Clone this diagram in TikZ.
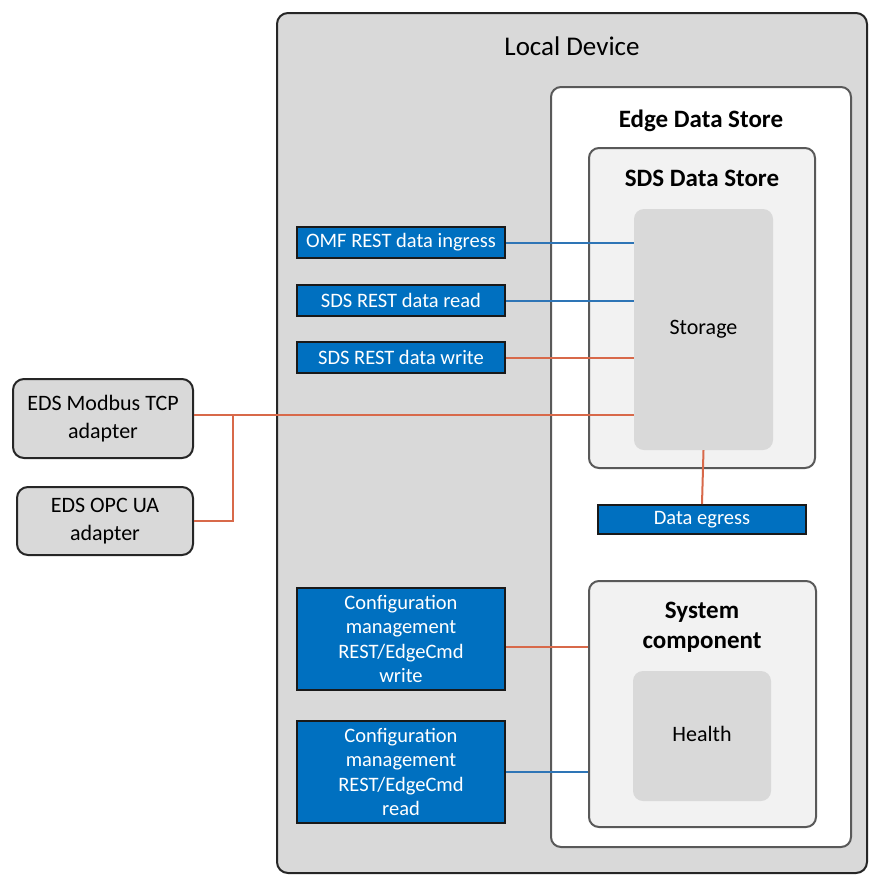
\documentclass[tikz,border=0pt]{standalone}
\usepackage{fontspec}
\setmainfont{Carlito}
\usetikzlibrary{positioning,calc}
\newcommand{\mylw}{2pt}
\newcommand{\txtsize}{\fontsize{22}{27.5}\selectfont}
\newcommand{\bluesize}{\fontsize{20.5}{24.6}\selectfont}
\newcommand{\boldsize}{\fontsize{25}{30}\selectfont\bfseries}
\definecolor{boxblue}{HTML}{0070C0}
\definecolor{lineblue}{HTML}{2E75B6}
\definecolor{lineorange}{HTML}{D8694A}
\definecolor{boxgray}{HTML}{D9D9D9}
\definecolor{boxlight}{HTML}{F2F2F2}
\definecolor{edgegray}{HTML}{595959}
\tikzset{
    devsty/.style={draw=black!85,line width=\mylw,fill=boxgray,rounded corners=11pt,inner sep=0pt},
    edssty/.style={draw=edgegray,line width=\mylw,fill=white,rounded corners=10pt,inner sep=0pt},
    innsty/.style={draw=edgegray,line width=\mylw,fill=boxlight,rounded corners=10pt,inner sep=0pt},
    coresty/.style={fill=boxgray,rounded corners=10pt,inner sep=0pt,font=\txtsize},
    apisty/.style={draw=black!90,line width=\mylw,fill=boxblue,text=white,align=center,inner sep=0pt,minimum width=208pt,font=\bluesize},
    adpsty/.style={draw=black!85,line width=\mylw,fill=boxgray,rounded corners=11pt,align=center,inner sep=0pt,font=\txtsize},
    titlesty/.style={align=center,font=\boldsize},
    blsty/.style={draw=lineblue,line width=\mylw},
    olsty/.style={draw=lineorange,line width=\mylw},
}

\begin{document}
\begin{tikzpicture}[x=1pt,y=-1pt]
  \useasboundingbox (0,0) rectangle (877,887);

  \node[devsty,minimum width=590pt,minimum height=860pt] (dev) at (572,443) {};
  \node[font=\fontsize{27}{32}\selectfont] (devlbl) at (572,46) {Local Device};

  \node[edssty,minimum width=300pt,minimum height=760pt] (eds) at (701,467) {};
  \node[titlesty] (edslbl) at (701,121) {Edge Data Store};

  \node[innsty,minimum width=226pt,minimum height=320pt] (sds) at (702,308) {};
  \node[titlesty] (sdslbl) at (702,178) {SDS Data Store};
  \node[coresty,minimum width=139pt,minimum height=241pt] (store) at (703.5,329.5) {Storage};

  \node[innsty,minimum width=227pt,minimum height=246pt] (sys) at (702.5,704) {};
  \node[titlesty] (syslbl) at (702,627) {System\\component};
  \node[coresty,minimum width=138pt,minimum height=130pt] (health) at (702,736) {};
  \node[font=\txtsize] (healthlbl) at (702,734) {Health};

  \node[apisty,minimum height=31pt] (omf) at (401,242.5) {OMF REST data ingress};
  \node[apisty,minimum height=31pt] (sdsrd) at (401,300.5) {SDS REST data read};
  \node[apisty,minimum height=31pt] (sdswr) at (401,357.5) {SDS REST data write};
  \node[apisty,minimum height=29pt] (egress) at (702,519.5) {Data egress};
  \node[apisty,minimum height=102pt] (cfgwr) at (401,639) {Configuration\\management\\REST/EdgeCmd\\write};
  \node[apisty,minimum height=102pt] (cfgrd) at (401,772) {Configuration\\management\\REST/EdgeCmd\\read};

  \node[adpsty,minimum width=180pt,minimum height=79pt] (modbus) at (103,418.5) {EDS Modbus TCP\\adapter};
  \node[adpsty,minimum width=176pt,minimum height=68pt] (opcua) at (105,521) {EDS OPC UA\\adapter};

  \coordinate (jn) at (233,415);
  \draw[blsty] (omf.east) -- (omf.east -| store.west);
  \draw[blsty] (sdsrd.east) -- (sdsrd.east -| store.west);
  \draw[olsty] (sdswr.east) -- (sdswr.east -| store.west);
  \draw[olsty] (modbus.east |- jn) -- (jn -| store.west);
  \draw[olsty] (opcua.east) -| (jn);
  \draw[olsty] (store.south) -- (egress.north);
  \draw[olsty] ([yshift=-8pt]cfgwr.east) coordinate (cwe) -- (cwe -| sys.west);
  \draw[blsty] (cfgrd.east) -- (cfgrd.east -| sys.west);
\end{tikzpicture}
\end{document}
